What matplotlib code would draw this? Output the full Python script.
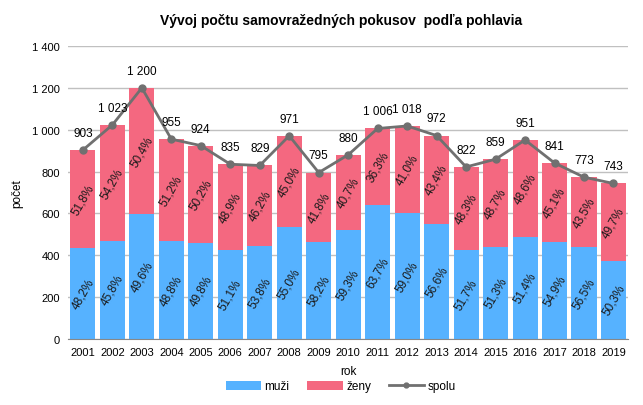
import matplotlib.pyplot as plt
import numpy as np

plt.rcParams['font.family'] = ['Liberation Sans', 'DejaVu Sans']

# údaje
roky = [str(r) for r in range(2001, 2020)]
spolu = [903, 1023, 1200, 955, 924, 835, 829, 971, 795, 880,
         1006, 1018, 972, 822, 859, 951, 841, 773, 743]
muzi = [435, 469, 595, 466, 460, 427, 446, 534, 463, 522,
        641, 601, 550, 425, 441, 489, 462, 437, 374]
zeny = [468, 554, 605, 489, 464, 408, 383, 437, 332, 358,
        365, 417, 422, 397, 418, 462, 379, 336, 369]
muzi_pct = ['48,2%', '45,8%', '49,6%', '48,8%', '49,8%', '51,1%', '53,8%', '55,0%', '58,2%', '59,3%',
            '63,7%', '59,0%', '56,6%', '51,7%', '51,3%', '51,4%', '54,9%', '56,5%', '50,3%']
zeny_pct = ['51,8%', '54,2%', '50,4%', '51,2%', '50,2%', '48,9%', '46,2%', '45,0%', '41,8%', '40,7%',
            '36,3%', '41,0%', '43,4%', '48,3%', '48,7%', '48,6%', '45,1%', '43,5%', '49,7%']

fig = plt.figure(figsize=(6.43, 4.06), dpi=100)
ax = fig.add_axes([0.106, 0.163, 0.871, 0.721])

x = np.arange(len(roky))
modra = '#56B2FF'
ruzova = '#F46880'
siva = '#707070'

b1 = ax.bar(x, muzi, width=0.85, color=modra, label='muži', zorder=2)
b2 = ax.bar(x, zeny, width=0.85, bottom=muzi, color=ruzova, label='ženy', zorder=2)
l1, = ax.plot(x, spolu, color=siva, lw=2, marker='o', ms=5, label='spolu', zorder=3)

for i in range(len(roky)):
    ax.text(x[i], muzi[i] / 2, muzi_pct[i], rotation=60, ha='center', va='center',
            fontsize=8.5, color='#1a1a1a', zorder=4)
    ax.text(x[i], muzi[i] + zeny[i] / 2, zeny_pct[i], rotation=60, ha='center', va='center',
            fontsize=8.5, color='#1a1a1a', zorder=4)
    ax.annotate(f'{spolu[i]:,}'.replace(',', ' '), (x[i], spolu[i]), xytext=(0, 8),
                textcoords='offset points', ha='center', va='bottom', fontsize=8.5)

ax.set_xlim(-0.5, len(roky) - 0.5)
ax.set_ylim(0, 1400)
ax.set_yticks(range(0, 1401, 200))
ax.set_yticklabels([f'{v:,}'.replace(',', ' ') for v in range(0, 1401, 200)])
ax.set_xticks(x)
ax.set_xticklabels(roky)
ax.tick_params(axis='both', length=0, labelsize=8, pad=6)
ax.grid(axis='y', color='#c0c0c0', lw=1, zorder=0)
for s in ['top', 'right', 'left']:
    ax.spines[s].set_visible(False)
ax.spines['bottom'].set_color('#888888')

ax.set_xlabel('rok', fontsize=8.5, labelpad=6)
ax.set_ylabel('počet', fontsize=8.5, labelpad=6)
fig.suptitle('Vývoj počtu samovražedných pokusov  podľa pohlavia', x=0.53, y=0.965,
             fontsize=10, fontweight='bold')

fig.legend([b1, b2, l1], ['muži', 'ženy', 'spolu'], loc='lower center',
           bbox_to_anchor=(0.53, 0.005), ncol=3, frameon=False, markerscale=0.7,
           fontsize=8.5, handlelength=3, handleheight=0.8, columnspacing=1.5, handletextpad=0.3)

fig.savefig('out.png', dpi=100)
